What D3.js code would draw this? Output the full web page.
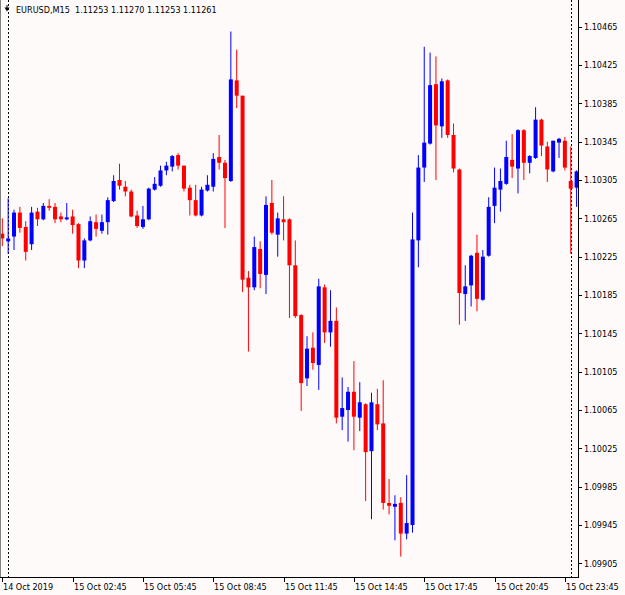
<!DOCTYPE html>
<html>
<head>
<meta charset="utf-8">
<script src="https://cdn.jsdelivr.net/npm/d3@7/dist/d3.min.js"></script>
<style>
  body { margin: 0; background: #fffafa; }
  svg { display: block; }
  text { font-family: "DejaVu Sans Condensed", "DejaVu Sans", sans-serif; font-size: 9px; fill: #000; }
</style>
</head>
<body>
<svg id="chart" width="625" height="595"></svg>
<script>
// EURUSD M15 bars, 14 Oct 23:45 .. 16 Oct 00:15
var open = [
  1.10249, 1.10241, 1.10246, 1.10271, 1.10256, 1.10238, 1.10272, 1.10264, 1.10278, 1.10277,
  1.10267, 1.10264, 1.10267, 1.10259, 1.10221, 1.10242, 1.10261, 1.10252, 1.10261, 1.10283,
  1.10305, 1.10298, 1.10293, 1.10268, 1.10256, 1.10264, 1.10295, 1.10299, 1.10315, 1.10319,
  1.10331, 1.10320, 1.10297, 1.10284, 1.10268, 1.10294, 1.10298, 1.10329, 1.10323, 1.10304,
  1.10409, 1.10393, 1.10203, 1.10193, 1.10233, 1.10206, 1.10281, 1.10248, 1.10264, 1.10264,
  1.10216, 1.10164, 1.10098, 1.10130, 1.10112, 1.10193, 1.10146, 1.10158, 1.10058, 1.10065,
  1.10084, 1.10057, 1.10071, 1.10022, 1.10071, 1.10051, 1.09968, 1.09964, 1.09968, 1.09936,
  1.09945, 1.10242, 1.10318, 1.10343, 1.10405, 1.10361, 1.10409, 1.10352, 1.10316, 1.10186,
  1.10195, 1.10229, 1.10180, 1.10226, 1.10278, 1.10295, 1.10301, 1.10326, 1.10317, 1.10357,
  1.10323, 1.10328, 1.10368, 1.10340, 1.10314, 1.10344, 1.10346, 1.10304, 1.10297
];
var high = [
  1.10265, 1.10286, 1.10274, 1.10277, 1.10262, 1.10277, 1.10276, 1.10281, 1.10285, 1.10281,
  1.10271, 1.10281, 1.10274, 1.10260, 1.10244, 1.10267, 1.10269, 1.10269, 1.10287, 1.10310,
  1.10322, 1.10304, 1.10295, 1.10273, 1.10278, 1.10297, 1.10308, 1.10320, 1.10324, 1.10331,
  1.10333, 1.10320, 1.10300, 1.10300, 1.10298, 1.10310, 1.10333, 1.10352, 1.10326, 1.10460,
  1.10441, 1.10393, 1.10210, 1.10246, 1.10241, 1.10288, 1.10305, 1.10271, 1.10288, 1.10265,
  1.10242, 1.10165, 1.10142, 1.10146, 1.10202, 1.10196, 1.10190, 1.10172, 1.10099, 1.10089,
  1.10116, 1.10094, 1.10072, 1.10083, 1.10087, 1.10096, 1.09993, 1.09976, 1.09974, 1.09997,
  1.10271, 1.10331, 1.10444, 1.10438, 1.10434, 1.10411, 1.10410, 1.10364, 1.10317, 1.10216,
  1.10227, 1.10248, 1.10232, 1.10287, 1.10318, 1.10317, 1.10346, 1.10353, 1.10358, 1.10358,
  1.10331, 1.10381, 1.10369, 1.10345, 1.10346, 1.10349, 1.10350, 1.10340, 1.10315
];
var low = [
  1.10236, 1.10228, 1.10232, 1.10250, 1.10221, 1.10232, 1.10257, 1.10263, 1.10273, 1.10260,
  1.10261, 1.10263, 1.10249, 1.10213, 1.10213, 1.10241, 1.10246, 1.10249, 1.10248, 1.10282,
  1.10295, 1.10288, 1.10266, 1.10255, 1.10254, 1.10263, 1.10294, 1.10298, 1.10310, 1.10314,
  1.10316, 1.10293, 1.10268, 1.10267, 1.10267, 1.10293, 1.10293, 1.10316, 1.10255, 1.10303,
  1.10380, 1.10188, 1.10126, 1.10190, 1.10192, 1.10186, 1.10248, 1.10225, 1.10242, 1.10161,
  1.10161, 1.10064, 1.10090, 1.10107, 1.10086, 1.10135, 1.10131, 1.10051, 1.10044, 1.10032,
  1.10023, 1.10043, 1.09970, 1.09951, 1.10044, 1.09961, 1.09956, 1.09929, 1.09912, 1.09930,
  1.09937, 1.10214, 1.10303, 1.10342, 1.10305, 1.10349, 1.10349, 1.10313, 1.10154, 1.10158,
  1.10173, 1.10168, 1.10179, 1.10225, 1.10260, 1.10272, 1.10300, 1.10307, 1.10291, 1.10305,
  1.10312, 1.10327, 1.10330, 1.10303, 1.10313, 1.10328, 1.10315, 1.10228, 1.10277
];
var close = [
  1.10244, 1.10244, 1.10271, 1.10255, 1.10230, 1.10271, 1.10264, 1.10278, 1.10276, 1.10264,
  1.10264, 1.10266, 1.10258, 1.10221, 1.10242, 1.10262, 1.10254, 1.10261, 1.10284, 1.10304,
  1.10299, 1.10293, 1.10267, 1.10257, 1.10264, 1.10296, 1.10301, 1.10315, 1.10320, 1.10330,
  1.10320, 1.10296, 1.10284, 1.10268, 1.10295, 1.10300, 1.10327, 1.10323, 1.10307, 1.10410,
  1.10393, 1.10201, 1.10193, 1.10235, 1.10207, 1.10279, 1.10250, 1.10265, 1.10261, 1.10216,
  1.10163, 1.10093, 1.10129, 1.10114, 1.10194, 1.10146, 1.10158, 1.10057, 1.10067, 1.10084,
  1.10058, 1.10073, 1.10021, 1.10073, 1.10050, 1.09968, 1.09965, 1.09967, 1.09936, 1.09947,
  1.10243, 1.10318, 1.10344, 1.10404, 1.10362, 1.10408, 1.10352, 1.10317, 1.10187, 1.10194,
  1.10226, 1.10181, 1.10225, 1.10277, 1.10297, 1.10304, 1.10329, 1.10319, 1.10357, 1.10323,
  1.10330, 1.10368, 1.10341, 1.10316, 1.10346, 1.10348, 1.10318, 1.10296, 1.10314
];

var timeTickBars = [0, 12, 24, 36, 48, 60, 72, 84, 96];
var timeTickLabels = ["14 Oct 2019", "15 Oct 02:45", "15 Oct 05:45", "15 Oct 08:45",
  "15 Oct 11:45", "15 Oct 14:45", "15 Oct 17:45", "15 Oct 20:45", "15 Oct 23:45"];
var daySeparatorBars = [1, 97];
var priceTicks = [1.10465, 1.10425, 1.10385, 1.10345, 1.10305, 1.10265, 1.10225, 1.10185,
  1.10145, 1.10105, 1.10065, 1.10025, 1.09985, 1.09945, 1.09905];
var title = "EURUSD,M15  1.11253 1.11270 1.11253 1.11261";

var bars = open.map(function (o, i) {
  return { i: i, o: o, h: high[i], l: low[i], c: close[i] };
});

var W = 578, H = 577; // plot frame (right axis line / bottom axis line)

var svg = d3.select("#chart");
svg.append("rect").attr("width", 625).attr("height", 595).attr("fill", "#fffafa");

var x = d3.scaleLinear().domain([0, 98]).range([2.3, 576.6]);
var y = d3.scaleLinear().domain([1.09905, 1.10465]).range([563.3, 26.7]);

svg.append("clipPath").attr("id", "plot")
  .append("rect").attr("x", 0).attr("y", 0).attr("width", W).attr("height", H);

var plot = svg.append("g").attr("clip-path", "url(#plot)");

// day separators
plot.selectAll("line.sep")
  .data(daySeparatorBars)
  .enter().append("line")
  .attr("class", "sep")
  .attr("x1", d => Math.round(x(d)) + 0.5)
  .attr("x2", d => Math.round(x(d)) + 0.5)
  .attr("y1", 0).attr("y2", H)
  .attr("stroke", "#000")
  .attr("stroke-dasharray", "2,2");

var candle = plot.selectAll("g.bar")
  .data(bars)
  .enter().append("g")
  .attr("class", "bar");

var col = d => d.c >= d.o ? "#0000ff" : "#ff0000";

candle.append("line")
  .attr("x1", d => x(d.i)).attr("x2", d => x(d.i))
  .attr("y1", d => y(d.h)).attr("y2", d => y(d.l))
  .attr("stroke", col)
  .attr("stroke-width", 1);

candle.append("rect")
  .attr("x", d => x(d.i) - 2)
  .attr("width", 4)
  .attr("y", d => y(Math.max(d.o, d.c)))
  .attr("height", d => Math.max(1, Math.abs(y(d.o) - y(d.c))))
  .attr("fill", col);

// frame
svg.append("line").attr("x1", 0.5).attr("x2", 0.5).attr("y1", 0).attr("y2", H)
  .attr("stroke", "#808080").attr("stroke-width", 1);
svg.append("line").attr("x1", W + 0.5).attr("x2", W + 0.5).attr("y1", 0).attr("y2", H + 1)
  .attr("stroke", "#000");
svg.append("line").attr("x1", 0).attr("x2", W + 1).attr("y1", H + 0.5).attr("y2", H + 0.5)
  .attr("stroke", "#000");

// price axis
var yAxis = svg.append("g").attr("transform", "translate(" + (W + 1) + ",0)");
yAxis.selectAll("line")
  .data(priceTicks)
  .enter().append("line")
  .attr("x1", 0).attr("x2", 3)
  .attr("y1", d => Math.round(y(d)) + 0.5)
  .attr("y2", d => Math.round(y(d)) + 0.5)
  .attr("stroke", "#000");
yAxis.selectAll("text")
  .data(priceTicks)
  .enter().append("text")
  .attr("x", 5)
  .attr("y", d => y(d) + 3.3)
  .text(d => d3.format(".5f")(d));

// time axis
var xAxis = svg.append("g").attr("transform", "translate(0," + (H + 1) + ")");
xAxis.selectAll("line")
  .data(timeTickBars)
  .enter().append("line")
  .attr("x1", d => Math.round(x(d)) + 0.5)
  .attr("x2", d => Math.round(x(d)) + 0.5)
  .attr("y1", 0).attr("y2", 4)
  .attr("stroke", "#000");
xAxis.selectAll("text")
  .data(timeTickBars)
  .enter().append("text")
  .attr("x", d => Math.round(x(d)) + 1)
  .attr("y", 12)
  .text((d, i) => timeTickLabels[i]);

// title with the small drop arrow
svg.append("path")
  .attr("d", "M4.5,7.5 h5 l-2.5,4 z M6.5,5 h1 v3 h-1 z")
  .attr("fill", "#000");
svg.append("text")
  .attr("x", 16).attr("y", 13)
  .style("white-space", "pre")
  .attr("xml:space", "preserve")
  .text(title);
</script>
</body>
</html>
